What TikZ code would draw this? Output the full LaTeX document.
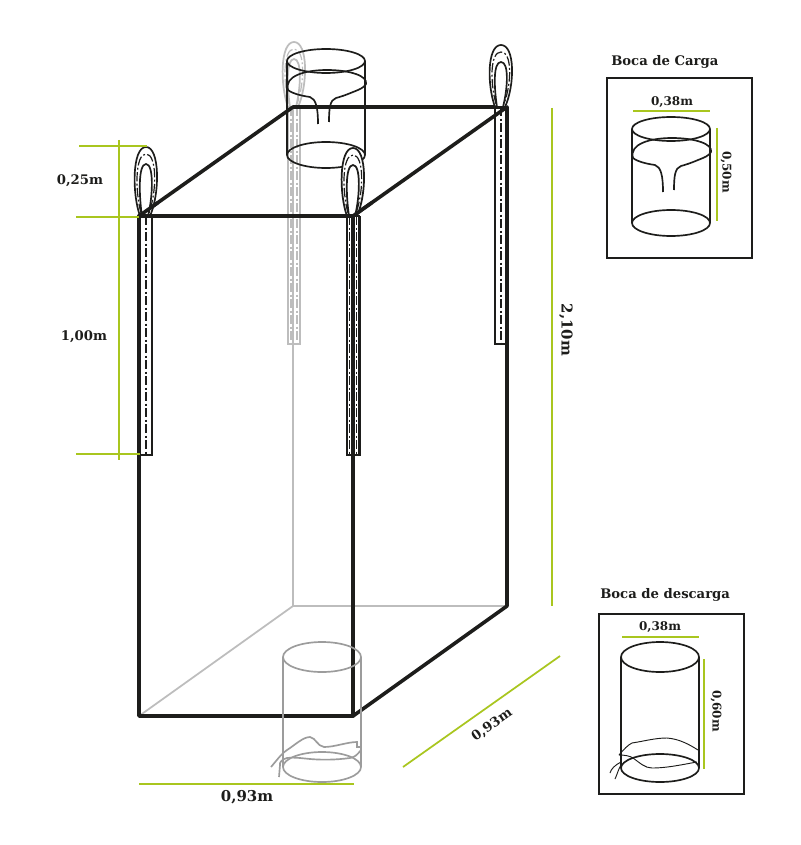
\documentclass[tikz,border=0pt]{standalone}
\usepackage{fontspec}
\usetikzlibrary{calc}
\setmainfont{DejaVu Serif}
\definecolor{dimgreen}{HTML}{A9C61F}
\definecolor{inkc}{HTML}{1D1D1B}
\definecolor{backg}{HTML}{BDBDBD}
\definecolor{cylg}{HTML}{9C9C9C}
\tikzset{
  bagedge/.style={draw=inkc,line width=2.7pt,line cap=round,line join=round},
  bagback/.style={draw=backg,line width=1.3pt},
  dimline/.style={draw=dimgreen,line width=1.3pt},
  thinline/.style={line width=1.25pt},
  stitch/.style={line width=.9pt,dash pattern=on 7pt off 1.8pt on 1.4pt off 1.8pt},
  panel/.style={draw=inkc,line width=1.3pt},
  lbl/.style={font=\fontsize{9.9pt}{11pt}\selectfont\bfseries,text=inkc,inner sep=0pt},
  lblsmall/.style={font=\fontsize{9pt}{11pt}\selectfont\bfseries,text=inkc,inner sep=0pt},
  lblbig/.style={font=\fontsize{11.2pt}{13pt}\selectfont\bfseries,text=inkc,inner sep=0pt},
}
% cx, top y, base y, end y, colour, thickness
\newcommand{\liftstrap}[6]{%
  \fill[white] ({#1-5},#3) .. controls ({#1-14},{#3-22}) and ({#1-13},#2) .. (#1,#2) .. controls ({#1+13},#2) and ({#1+14},{#3-22}) .. ({#1+5},#3) -- cycle;
  \draw[#5,line width=#6] ({#1-6},#3) .. controls ({#1-14},{#3-22}) and ({#1-14},#2) .. (#1,#2) .. controls ({#1+14},#2) and ({#1+14},{#3-22}) .. ({#1+4},#3);
  \draw[#5,line width=#6] ({#1-4},#3) .. controls ({#1-7},{#3-20}) and ({#1-8},{#2+17}) .. (#1,{#2+17}) .. controls ({#1+8},{#2+17}) and ({#1+7},{#3-20}) .. ({#1+2},#3);
  \draw[#5,stitch] ({#1-5},{#3-3}) .. controls ({#1-11},{#3-25}) and ({#1-11},{#2+7}) .. (#1,{#2+7}) .. controls ({#1+11},{#2+7}) and ({#1+11},{#3-25}) .. ({#1+3},{#3-3});
  \draw[#5,line width=#6] ({#1-6},#3) rectangle ({#1+6},#4);
}
% cx, top y, bottom y, top ry, bottom ry, colour
\newcommand{\tubebody}[6]{%
  \draw[#6,thinline] (#1,#2) ellipse [x radius=39,y radius=#4];
  \draw[#6,thinline] (#1,#3) ellipse [x radius=39,y radius=#5];
  \draw[#6,thinline] ({#1-39},#2) -- ({#1-39},#3);
  \draw[#6,thinline] ({#1+39},#2) -- ({#1+39},#3);
}
% skirt of the filling spout, dx dy
\newcommand{\spoutskirt}[2]{%
  \begin{scope}[shift={(#1,#2)}]
  \draw[inkc,thinline] (288,90) .. controls (284,76) and (305,70) .. (327,70) .. controls (350,70) and (368,76) .. (366,84) .. controls (364,88) and (358,90) .. (353,92) .. controls (346,95) and (340,97) .. (336,98) .. controls (330,100) and (329,108) .. (329,122);
  \draw[inkc,thinline] (288,90) .. controls (293,94) and (303,96) .. (310,97) .. controls (316,99) and (318,108) .. (318,124);
  \end{scope}
}
\begin{document}
\begin{tikzpicture}[x=.75pt,y=-.75pt]
\useasboundingbox (0,0) rectangle (800,845);
\fill[white] (0,0) rectangle (800,845);

% bag corners
\coordinate (ftl) at (139,216);
\coordinate (ftr) at (353,216);
\coordinate (fbl) at (139,716);
\coordinate (fbr) at (353,716);
\coordinate (btl) at (293,107);
\coordinate (btr) at (507,107);
\coordinate (bbl) at (293,606);
\coordinate (bbr) at (507,606);

% back edges
\draw[bagback] (btl) -- (bbl);
\draw[bagback] (bbl) -- (bbr);
\draw[bagback] (bbl) -- (fbl);

% back left strap (grey)
\liftstrap{294}{42}{107}{344}{backg}{1.3pt}
\draw[backg,stitch] (291,107) -- (291,344);
\draw[backg,stitch] (297,107) -- (297,344);

% filling spout on the bag
\tubebody{326}{61}{155}{12}{13}{inkc}
\spoutskirt{0}{0}

% main frame
\draw[bagedge] (ftl) -- (btl) -- (btr) -- (bbr) -- (fbr) -- (fbl) -- cycle;
\draw[bagedge] (ftl) -- (ftr) -- (btr);
\draw[bagedge] (ftr) -- (fbr);

% discharge spout under the bag
\tubebody{322}{657}{767}{15}{15}{cylg}
\draw[cylg,thinline] (271,767) .. controls (277,760) and (282,753) .. (287,750) .. controls (295,745) and (303,737) .. (310,737) .. controls (316,738) and (317,746) .. (324,747) .. controls (335,747) and (347,742) .. (357,742) -- (357,747) -- (361,747);
\draw[cylg,thinline] (361,750) .. controls (357,755) and (355,757) .. (350,758) .. controls (335,760) and (322,760) .. (310,759) .. controls (300,758) and (293,757) .. (287,758) .. controls (282,759) and (279,763) .. (280,765) -- (279,777);

% front and right straps
\liftstrap{146}{147}{216}{455}{inkc}{1.25pt}
\draw[inkc,stitch] (146,216) -- (146,455);
\liftstrap{353}{148}{216}{455}{inkc}{1.3pt}
\draw[inkc,line width=1.3pt] (360,216) -- (360,455) -- (353,455);
\draw[inkc,line width=2.7pt] (ftr) -- (353,455);
\draw[inkc,stitch] (349.6,216) -- (349.6,455);
\draw[inkc,stitch] (356.6,216) -- (356.6,455);
\liftstrap{501}{45}{107}{344}{inkc}{1.25pt}
\draw[inkc,stitch] (501,107) -- (501,344);
\draw[inkc,line width=2.7pt] (btr) -- (507,344);
\draw[bagedge] (ftl) -- (ftr);
\draw[bagedge] (ftl) -- ($(ftl)!0.12!(btl)$);
\draw[bagedge] (ftr) -- ($(ftr)!0.12!(btr)$);

% dimension lines
\coordinate (d1a) at (79,146);   \coordinate (d1b) at (147,146);
\coordinate (d2a) at (76,217);   \coordinate (d2b) at (139,217);
\coordinate (d3a) at (76,454);   \coordinate (d3b) at (140,454);
\coordinate (d4a) at (119,140);  \coordinate (d4b) at (119,460);
\coordinate (d5a) at (552,108);  \coordinate (d5b) at (552,606);
\coordinate (d6a) at (139,784);  \coordinate (d6b) at (354,784);
\coordinate (d7a) at (403,767);  \coordinate (d7b) at (560,656);
\draw[dimline] (d1a) -- (d1b);
\draw[dimline] (d2a) -- (d2b);
\draw[dimline] (d3a) -- (d3b);
\draw[dimline] (d4a) -- (d4b);
\draw[dimline] (d5a) -- (d5b);
\draw[dimline] (d6a) -- (d6b);
\draw[dimline] (d7a) -- (d7b);

\node[lbl] (t025) at (80,181) {0,25m};
\node[lbl] (t100) at (84,337) {1,00m};
\node[lblbig,rotate=-90] (t210) at (566,330) {2,10m};
\node[lblbig] (t093a) at (247,797) {0,93m};
\node[lbl,rotate=35] (t093b) at (492,725) {0,93m};

% panel: Boca de Carga
\node[lbl,anchor=west] (tcarga) at (611,62) {Boca de Carga};
\draw[panel] (607,78) rectangle (752,258);
\tubebody{671}{129}{223}{12}{13}{inkc}
\spoutskirt{345}{68}
\coordinate (c1a) at (633,111); \coordinate (c1b) at (710,111);
\coordinate (c2a) at (717,128); \coordinate (c2b) at (717,221);
\draw[dimline] (c1a) -- (c1b);
\draw[dimline] (c2a) -- (c2b);
\node[lblsmall] (tc38) at (672,102) {0,38m};
\node[lblsmall,rotate=-90] (tc50) at (726,172) {0,50m};

% panel: Boca de descarga
\node[lbl,anchor=west] (tdesc) at (600,595) {Boca de descarga};
\draw[panel] (599,614) rectangle (744,794);
\tubebody{660}{657}{768}{15}{14}{inkc}
\draw[inkc,line width=.7pt] (619,755) .. controls (624,749) and (628,745) .. (632,743) .. controls (645,741) and (655,738) .. (667,738) .. controls (680,739) and (690,745) .. (698,750);
\draw[inkc,line width=.7pt] (619,755) .. controls (625,755) and (630,756) .. (633,758) .. controls (640,763) and (645,768) .. (652,768) .. controls (668,768) and (685,764) .. (697,762);
\draw[inkc,line width=.7pt] (621,762) .. controls (615,765) and (611,769) .. (610,773);
\draw[inkc,line width=.7pt] (621,765) .. controls (618,770) and (617,775) .. (615,779);
\coordinate (e1a) at (622,637); \coordinate (e1b) at (699,637);
\coordinate (e2a) at (704,659); \coordinate (e2b) at (704,769);
\draw[dimline] (e1a) -- (e1b);
\draw[dimline] (e2a) -- (e2b);
\node[lblsmall] (te38) at (660,627) {0,38m};
\node[lblsmall,rotate=-90] (te60) at (716,711) {0,60m};
\end{tikzpicture}
\end{document}
